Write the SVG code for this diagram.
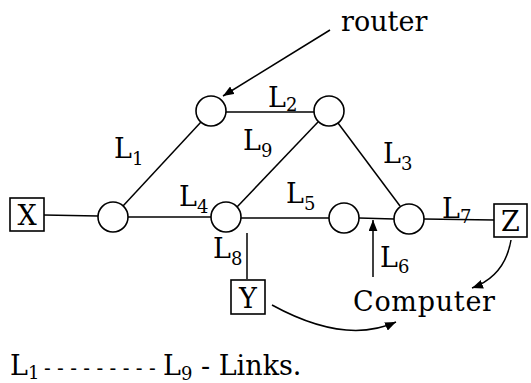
<svg xmlns="http://www.w3.org/2000/svg" width="531" height="383" viewBox="0 0 531 383">
<defs>
<style>
.ln{stroke:#000;stroke-width:1.5;fill:none}
.rt{fill:#fff;stroke:#000;stroke-width:1.6}
.bx{fill:#fff;stroke:#000;stroke-width:1.6}
text{font-family:"DejaVu Serif","Liberation Serif",serif;font-size:27px;fill:#000}
.sub{font-size:18px}
</style>
<marker id="ah" viewBox="0 0 10 8" refX="10" refY="4" markerWidth="11" markerHeight="9" markerUnits="userSpaceOnUse" orient="auto">
<path d="M0,0 L10,4 L0,8 Z" fill="#000"/>
</marker>
</defs>
<rect width="531" height="383" fill="#fff"/>
<g id="connectors">
<line class="ln" x1="44" y1="215" x2="98" y2="216"/>
<line class="ln" x1="128" y1="217" x2="211" y2="217"/>
<line class="ln" x1="241" y1="218" x2="329" y2="218"/>
<line class="ln" x1="359" y1="218" x2="394" y2="219"/>
<line class="ln" x1="424" y1="219" x2="494" y2="220"/>
<line class="ln" x1="123" y1="206" x2="201" y2="122"/>
<line class="ln" x1="226" y1="112" x2="314" y2="112"/>
<line class="ln" x1="318" y1="122" x2="237" y2="207"/>
<line class="ln" x1="338" y1="123" x2="400" y2="206"/>
<line class="ln" x1="247" y1="233" x2="247" y2="279"/>
<line class="ln" x1="373" y1="277" x2="373" y2="220" marker-end="url(#ah)"/>
<line class="ln" x1="330" y1="30" x2="223" y2="96" marker-end="url(#ah)"/>
<path class="ln" d="M511 240 Q505 276 472 288" marker-end="url(#ah)"/>
<path class="ln" d="M272 305 Q345 345 396 322" marker-end="url(#ah)"/>
</g>
<g id="router1"><circle class="rt" cx="211" cy="111" r="15"/></g>
<g id="router2"><circle class="rt" cx="329" cy="111" r="15"/></g>
<g id="router3"><circle class="rt" cx="113" cy="217" r="15"/></g>
<g id="router4"><circle class="rt" cx="226" cy="217" r="15"/></g>
<g id="router5"><circle class="rt" cx="344" cy="218" r="15"/></g>
<g id="router6"><circle class="rt" cx="409" cy="219" r="15"/></g>
<g id="nodeX"><rect class="bx" x="10" y="198" width="34" height="33"/><text x="27" y="225" text-anchor="middle">X</text></g>
<g id="nodeY"><rect class="bx" x="231" y="280" width="34" height="34"/><text x="248" y="308" text-anchor="middle">Y</text></g>
<g id="nodeZ"><rect class="bx" x="494" y="204" width="33" height="33"/><text x="510.5" y="231" text-anchor="middle">Z</text></g>
<g id="labels">
<text x="341" y="31">router</text>
<text x="114" y="158">L<tspan class="sub" dy="7">1</tspan></text>
<text x="268" y="107">L<tspan class="sub" dy="4">2</tspan></text>
<text x="243" y="150">L<tspan class="sub" dy="7">9</tspan></text>
<text x="383" y="163">L<tspan class="sub" dy="7">3</tspan></text>
<text x="179" y="206">L<tspan class="sub" dy="7">4</tspan></text>
<text x="286" y="203">L<tspan class="sub" dy="7">5</tspan></text>
<text x="442" y="218">L<tspan class="sub" dy="5">7</tspan></text>
<text x="213" y="258">L<tspan class="sub" dy="7">8</tspan></text>
<text x="380" y="267">L<tspan class="sub" dy="6">6</tspan></text>
<text x="353" y="311" font-size="28" textLength="142">Computer</text>
<text x="10" y="375">L<tspan class="sub" dy="4">1</tspan><tspan x="44" dy="-4" font-size="20">- - - - - - - - -</tspan><tspan x="163">L</tspan><tspan class="sub" dy="5">9</tspan><tspan dy="-5"> - Links.</tspan></text>
</g>
</svg>
